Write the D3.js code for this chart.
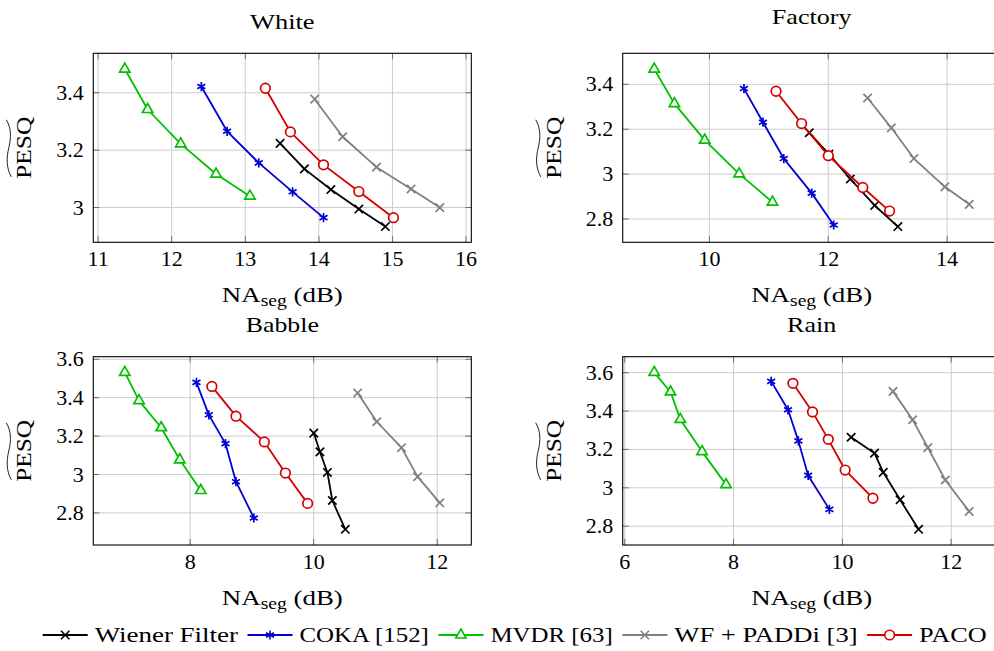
<!DOCTYPE html>
<html>
<head>
<meta charset="utf-8">
<script src="https://cdn.jsdelivr.net/npm/d3@7"></script>
<style>
  body { margin: 0; background: #fff; }
  svg { display: block; }
</style>
</head>
<body>
<svg id="chart" width="994" height="651"></svg>
<script>
// ---- data -------------------------------------------------------------
const methods = ["Wiener Filter", "COKA [152]", "MVDR [63]", "WF + PADDi [3]", "PACO"];
const noiseTypes = ["White", "Factory", "Babble", "Rain"];

// NAseg (dB) and PESQ per method (rows follow `methods`)
const whiteNA = [
  [13.48, 13.81, 14.17, 14.55, 14.91],
  [12.41, 12.76, 13.19, 13.65, 14.07],
  [11.37, 11.68, 12.13, 12.61, 13.07],
  [13.95, 14.33, 14.79, 15.26, 15.65],
  [13.28, 13.62, 14.07, 14.55, 15.02]
];
const whitePESQ = [
  [3.222, 3.133, 3.061, 2.993, 2.932],
  [3.420, 3.264, 3.154, 3.053, 2.963],
  [3.481, 3.340, 3.220, 3.115, 3.038],
  [3.376, 3.245, 3.139, 3.063, 2.998],
  [3.414, 3.262, 3.147, 3.054, 2.963]
];

const factoryNA = [
  [11.69, 12.02, 12.38, 12.79, 13.18],
  [10.59, 10.91, 11.26, 11.73, 12.10],
  [9.08, 9.42, 9.93, 10.51, 11.07],
  [12.67, 13.07, 13.45, 13.97, 14.38],
  [11.13, 11.56, 12.01, 12.59, 13.04]
];
const factoryPESQ = [
  [3.182, 3.087, 2.976, 2.858, 2.764],
  [3.379, 3.229, 3.067, 2.913, 2.771],
  [3.466, 3.312, 3.149, 2.999, 2.873],
  [3.337, 3.204, 3.067, 2.941, 2.863],
  [3.367, 3.223, 3.080, 2.938, 2.833]
];

const babbleNA = [
  [10.01, 10.11, 10.23, 10.31, 10.52],
  [8.11, 8.31, 8.58, 8.75, 9.04],
  [6.95, 7.18, 7.54, 7.84, 8.18],
  [10.72, 11.03, 11.43, 11.69, 12.05],
  [8.36, 8.75, 9.21, 9.55, 9.91]
];
const babblePESQ = [
  [3.213, 3.115, 3.008, 2.862, 2.712],
  [3.477, 3.308, 3.158, 2.960, 2.771],
  [3.529, 3.382, 3.241, 3.074, 2.914],
  [3.422, 3.272, 3.137, 2.986, 2.850],
  [3.456, 3.301, 3.167, 3.005, 2.847]
];

const rainNA = [
  [10.17, 10.60, 10.76, 11.07, 11.41],
  [8.70, 9.01, 9.20, 9.38, 9.77],
  [6.55, 6.85, 7.03, 7.43, 7.87],
  [10.94, 11.30, 11.58, 11.90, 12.34],
  [9.10, 9.46, 9.75, 10.06, 10.57]
];
const rainPESQ = [
  [3.261, 3.178, 3.078, 2.935, 2.781],
  [3.552, 3.404, 3.242, 3.062, 2.885],
  [3.599, 3.497, 3.354, 3.186, 3.014],
  [3.500, 3.352, 3.207, 3.038, 2.874],
  [3.542, 3.393, 3.250, 3.090, 2.943]
];

// tick values
const whiteXTicks = [11, 12, 13, 14, 15, 16];
const whiteYTicks = [3, 3.2, 3.4];
const factoryXTicks = [10, 12, 14];
const factoryYTicks = [2.8, 3, 3.2, 3.4];
const babbleXTicks = [8, 10, 12];
const babbleYTicks = [2.8, 3, 3.2, 3.4, 3.6];
const rainXTicks = [6, 8, 10, 12];
const rainYTicks = [2.8, 3, 3.2, 3.4, 3.6];

// ---- style ------------------------------------------------------------
const methodColors = ["#000000", "#0000d2", "#00c000", "#808080", "#d40000"];
const methodMarks = ["times", "asterisk", "triangle", "times", "circle"];
const FONT = 22;
const FAMILY = "Liberation Serif";
const PW = 378;

const layout = [
  { left: 93.3,  top: 53.3,  h: 189,   titleY: 29.3,  titleW: 64.7 },
  { left: 622.7, top: 53.3,  h: 189,   titleY: 24,    titleW: 79.7 },
  { left: 93.3,  top: 356.7, h: 188.3, titleY: 331.7, titleW: 73.3 },
  { left: 622.7, top: 356.7, h: 188.3, titleY: 331.7, titleW: 49.3 }
];

const panels = [
  { name: noiseTypes[0], na: whiteNA,   pesq: whitePESQ,   xt: whiteXTicks,   yt: whiteYTicks },
  { name: noiseTypes[1], na: factoryNA, pesq: factoryPESQ, xt: factoryXTicks, yt: factoryYTicks },
  { name: noiseTypes[2], na: babbleNA,  pesq: babblePESQ,  xt: babbleXTicks,  yt: babbleYTicks },
  { name: noiseTypes[3], na: rainNA,    pesq: rainPESQ,    xt: rainXTicks,    yt: rainYTicks }
];

// marker outlines centred on the origin
function markPath(kind) {
  const p = d3.path();
  if (kind === "times") {
    const s = 4.2;
    p.moveTo(-s, -s); p.lineTo(s, s);
    p.moveTo(-s, s); p.lineTo(s, -s);
  } else if (kind === "asterisk") {
    const r = 4.6;
    [90, 30, 150].forEach(a => {
      const t = a * Math.PI / 180;
      p.moveTo(-r * Math.cos(t), -r * Math.sin(t));
      p.lineTo(r * Math.cos(t), r * Math.sin(t));
    });
  } else if (kind === "triangle") {
    const r = 6;
    [-90, 30, 150].forEach((a, i) => {
      const t = a * Math.PI / 180;
      if (i === 0) p.moveTo(r * Math.cos(t), r * Math.sin(t));
      else p.lineTo(r * Math.cos(t), r * Math.sin(t));
    });
    p.closePath();
  } else if (kind === "circle") {
    p.arc(0, 0, 4.8, 0, 2 * Math.PI);
  }
  return p.toString();
}

const fmt = d3.format("~g");
const svg = d3.select("#chart");
svg.append("rect").attr("width", 994).attr("height", 651).attr("fill", "#fff");

function serifText(sel) {
  return sel.attr("font-family", FAMILY).attr("font-size", FONT).attr("fill", "#000");
}

function styleAxis(sel) {
  sel.select(".domain").remove();
  sel.attr("font-family", FAMILY).attr("font-size", FONT);
  sel.selectAll(".tick line").attr("stroke", "#6e6e6e").attr("stroke-width", 1);
  sel.selectAll(".tick text").call(serifText);
}

panels.forEach((p, i) => {
  const L = layout[i];
  const g = svg.append("g").attr("transform", `translate(${L.left},${L.top})`);

  // axis limits: data range enlarged by 10% on each side
  const [x0, x1] = d3.extent(p.na.flat());
  const [y0, y1] = d3.extent(p.pesq.flat());
  const x = d3.scaleLinear().domain([x0 - 0.1 * (x1 - x0), x1 + 0.1 * (x1 - x0)]).range([0, PW]);
  const y = d3.scaleLinear().domain([y0 - 0.1 * (y1 - y0), y1 + 0.1 * (y1 - y0)]).range([L.h, 0]);

  // grid
  g.append("g").attr("transform", `translate(0,${L.h})`)
    .call(d3.axisBottom(x).tickValues(p.xt).tickSize(-L.h).tickFormat(""))
    .call(s => { s.select(".domain").remove(); s.selectAll("line").attr("stroke", "#cccccc").attr("stroke-width", 1); });
  g.append("g")
    .call(d3.axisLeft(y).tickValues(p.yt).tickSize(-PW).tickFormat(""))
    .call(s => { s.select(".domain").remove(); s.selectAll("line").attr("stroke", "#cccccc").attr("stroke-width", 1); });

  // ticks on all four sides, labels on bottom and left
  g.append("g").attr("transform", `translate(0,${L.h})`)
    .call(d3.axisBottom(x).tickValues(p.xt).tickSize(-6).tickPadding(8.5).tickFormat(fmt))
    .call(styleAxis);
  g.append("g")
    .call(d3.axisTop(x).tickValues(p.xt).tickSize(-6).tickFormat(""))
    .call(styleAxis);
  g.append("g")
    .call(d3.axisLeft(y).tickValues(p.yt).tickSize(-6).tickPadding(9.5).tickFormat(fmt))
    .call(styleAxis);
  g.append("g").attr("transform", `translate(${PW},0)`)
    .call(d3.axisRight(y).tickValues(p.yt).tickSize(-6).tickFormat(""))
    .call(styleAxis);

  // frame
  g.append("rect").attr("width", PW).attr("height", L.h)
    .attr("fill", "none").attr("stroke", "#000").attr("stroke-width", 1.1);

  // series
  const line = d3.line().x(d => x(d[0])).y(d => y(d[1]));
  methods.forEach((m, k) => {
    const pts = p.na[k].map((v, j) => [v, p.pesq[k][j]]);
    g.append("path").datum(pts).attr("d", line)
      .attr("fill", "none").attr("stroke", methodColors[k])
      .attr("stroke-width", 1.8).attr("stroke-linejoin", "round");
    g.append("g").selectAll("path").data(pts).join("path")
      .attr("transform", d => `translate(${x(d[0])},${y(d[1])})`)
      .attr("d", markPath(methodMarks[k]))
      .attr("fill", methodMarks[k] === "circle" || methodMarks[k] === "triangle" ? "#fff" : "none")
      .attr("stroke", methodColors[k]).attr("stroke-width", 1.7);
  });

  // title
  svg.append("text")
    .call(serifText)
    .attr("x", L.left + PW / 2).attr("y", L.titleY)
    .attr("text-anchor", "middle")
    .attr("textLength", L.titleW).attr("lengthAdjust", "spacingAndGlyphs")
    .text(p.name);

  // x label: NA_seg (dB)
  const xl = svg.append("text")
    .call(serifText)
    .attr("x", L.left + PW / 2).attr("y", L.top + L.h + 59.5)
    .attr("text-anchor", "middle")
    .attr("textLength", 121).attr("lengthAdjust", "spacingAndGlyphs");
  xl.append("tspan").text("NA");
  xl.append("tspan").attr("font-size", 16).attr("dy", 4).text("seg");
  xl.append("tspan").attr("dy", -4).text("\u00a0(dB)");

  // y label: PESQ with a wide tilde
  const cy = L.top + L.h / 2;
  const bx = L.left - 62;
  const yl = svg.append("g").attr("transform", `translate(${bx},${cy}) rotate(-90)`);
  yl.append("text").call(serifText).attr("x", 0).attr("y", 0)
    .attr("text-anchor", "middle")
    .attr("textLength", 62).attr("lengthAdjust", "spacingAndGlyphs")
    .text("PESQ");
  yl.append("path")
    .attr("d", "M-29,-20 C-20,-25 -10,-25 0,-22.5 C10,-20 20,-20 28,-25")
    .attr("fill", "none").attr("stroke", "#222").attr("stroke-width", 1);
});

// ---- legend -----------------------------------------------------------
const legendW = [143.3, 129.4, 122.4, 183.3, 67.7];
let lx = 42.7;
const ly = 635;
methods.forEach((m, k) => {
  const g = svg.append("g");
  g.append("line").attr("x1", lx).attr("x2", lx + 45).attr("y1", ly).attr("y2", ly)
    .attr("stroke", methodColors[k]).attr("stroke-width", 1.8);
  g.append("path").attr("transform", `translate(${lx + 22.5},${ly})`)
    .attr("d", markPath(methodMarks[k]))
    .attr("fill", methodMarks[k] === "circle" || methodMarks[k] === "triangle" ? "#fff" : "none")
    .attr("stroke", methodColors[k]).attr("stroke-width", 1.6);
  g.append("text").call(serifText).attr("x", lx + 52).attr("y", 641.7)
    .attr("textLength", legendW[k]).attr("lengthAdjust", "spacingAndGlyphs")
    .text(m);
  lx += 52 + legendW[k] + 9.5;
});
</script>
</body>
</html>
